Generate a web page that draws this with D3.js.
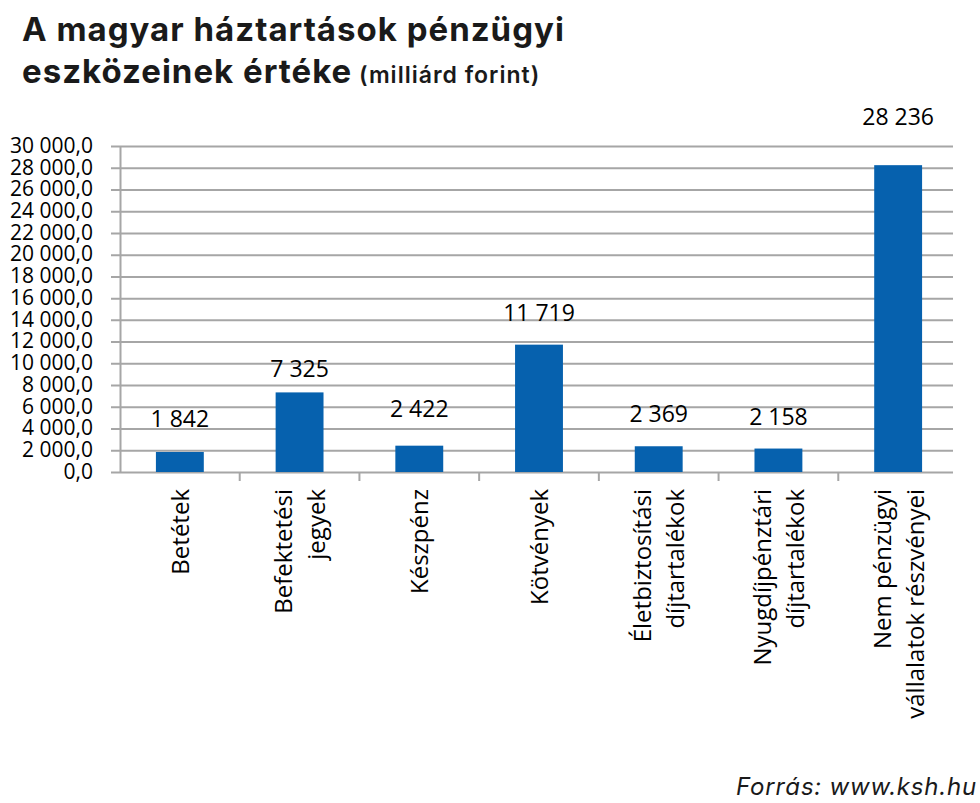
<!DOCTYPE html>
<html>
<head>
<meta charset="utf-8">
<script src="https://cdn.jsdelivr.net/npm/d3@7"></script>
<style>
  body { margin: 0; background: #fff; }
  svg { display: block; }
</style>
</head>
<body>
<div id="chart"></div>
<script>
(() => {

// adatok (milliárd forint)
const categories = [
    ["Betétek"],
    ["Befektetési", "jegyek"],
    ["Készpénz"],
    ["Kötvények"],
    ["Életbiztosítási", "díjtartalékok"],
    ["Nyugdíjpénztári", "díjtartalékok"],
    ["Nem pénzügyi", "vállalatok részvényei"]
]
const values = [1842, 7325, 2422, 11719, 2369, 2158, 28236]
const yTicks = [0, 2000, 4000, 6000, 8000, 10000, 12000, 14000, 16000, 18000, 20000, 22000, 24000, 26000, 28000, 30000]

const titleLine1 = "A magyar háztartások pénzügyi"
const titleLine2 = "eszközeinek értéke"
const titleUnit = " (milliárd forint)"
const source = "Forrás: www.ksh.hu"

let width = 980, height = 803
let left = 120, right = 958, top = 146, bottom = 472
let gridEnd = 953
let grey = "#a6a6a6", blue = "#0661ae"
let font = "'Open Sans', 'Noto Sans', sans-serif"
// címkék kézzel tolt távolsága az oszlop tetejétől
let labelGap = [25, 15, 29, 24, 24, 24, 40]

let hu = d3.formatLocale({ decimal: ",", thousands: " ", grouping: [3], currency: ["", " Ft"] })
let fmtAxis = hu.format(",.1f")
let fmtVal = hu.format(",")

let svg = d3.select("#chart")
            .append("svg")
            .attr("width", width)
            .attr("height", height)

let x = d3.scaleBand()
          .domain(d3.range(values.length))
          .range([left, right])
          .paddingInner(0.6)
          .paddingOuter(0.3)

let y = d3.scaleLinear()
          .domain([0, 30000])
          .range([bottom, top])

// cím
let title = svg.append("text")
               .attr("x", 22)
               .attr("y", 41)
               .attr("font-family", "Inter, sans-serif")
               .attr("font-weight", 700)
               .attr("font-size", 33)
               .attr("letter-spacing", 1)
               .attr("fill", "#1a1a1a")
title.append("tspan").text(titleLine1)
title.append("tspan")
     .attr("x", 22)
     .attr("y", 83)
     .text(titleLine2)
title.append("tspan")
     .attr("font-size", 23)
     .attr("font-weight", 600)
     .text(titleUnit)

// y tengely + rácsvonalak
let yAxis = svg.append("g")
               .attr("transform", "translate(" + left + ",0)")
               .call(d3.axisLeft(y)
                       .tickValues(yTicks)
                       .tickSize(-(gridEnd - left))
                       .tickSizeOuter(0)
                       .tickPadding(27)
                       .tickFormat(fmtAxis))

yAxis.select(".domain").attr("stroke", grey).attr("stroke-width", 2)
yAxis.selectAll(".tick line")
     .attr("x1", -9)
     .attr("stroke", grey)
     .attr("stroke-width", 2)
yAxis.selectAll(".tick text")
     .attr("font-family", font)
     .attr("font-size", 21)
     .attr("fill", "#000")
     .attr("dy", "0.3em")

// x tengely osztásai a kategóriák határán
let bounds = d3.range(1, values.length)
svg.append("g")
   .selectAll("line")
   .data(bounds).enter()
   .append("line")
   .attr("x1", d => left + d * x.step())
   .attr("x2", d => left + d * x.step())
   .attr("y1", bottom)
   .attr("y2", bottom + 9)
   .attr("stroke", grey)
   .attr("stroke-width", 2)

// oszlopok
svg.append("g")
   .selectAll("rect")
   .data(values).enter()
   .append("rect")
   .attr("x", (d, i) => x(i))
   .attr("width", x.bandwidth())
   .attr("y", d => y(d))
   .attr("height", d => y(0) - y(d))
   .attr("fill", blue)

// értékcímkék
svg.append("g")
   .selectAll("text")
   .data(values).enter()
   .append("text")
   .attr("x", (d, i) => x(i) + x.bandwidth() / 2)
   .attr("y", (d, i) => y(d) - labelGap[i])
   .attr("text-anchor", "middle")
   .attr("font-family", font)
   .attr("font-size", 23)
   .attr("fill", "#000")
   .text(d => fmtVal(d))

// kategóriacímkék, elforgatva
let lineGap = 33
let cat = svg.append("g")
             .selectAll("g")
             .data(categories).enter()
             .append("g")
             .attr("transform", (d, i) => "translate(" + (x(i) + x.bandwidth() / 2 + 9) + "," + (bottom + 17) + ") rotate(-90)")

cat.selectAll("text")
   .data(d => d.map((t, k) => ({ t: t, off: (k - (d.length - 1) / 2) * lineGap })))
   .enter()
   .append("text")
   .attr("x", 0)
   .attr("y", d => d.off)
   .attr("text-anchor", "end")
   .attr("font-family", font)
   .attr("font-size", 24)
   .attr("fill", "#000")
   .text(d => d.t)

// forrás
svg.append("text")
   .attr("x", 977)
   .attr("y", 795)
   .attr("text-anchor", "end")
   .attr("font-family", "Inter, sans-serif")
   .attr("font-style", "italic")
   .attr("font-size", 24)
   .attr("letter-spacing", 0.8)
   .attr("fill", "#1a1a1a")
   .text(source)

})();
</script>
</body>
</html>
